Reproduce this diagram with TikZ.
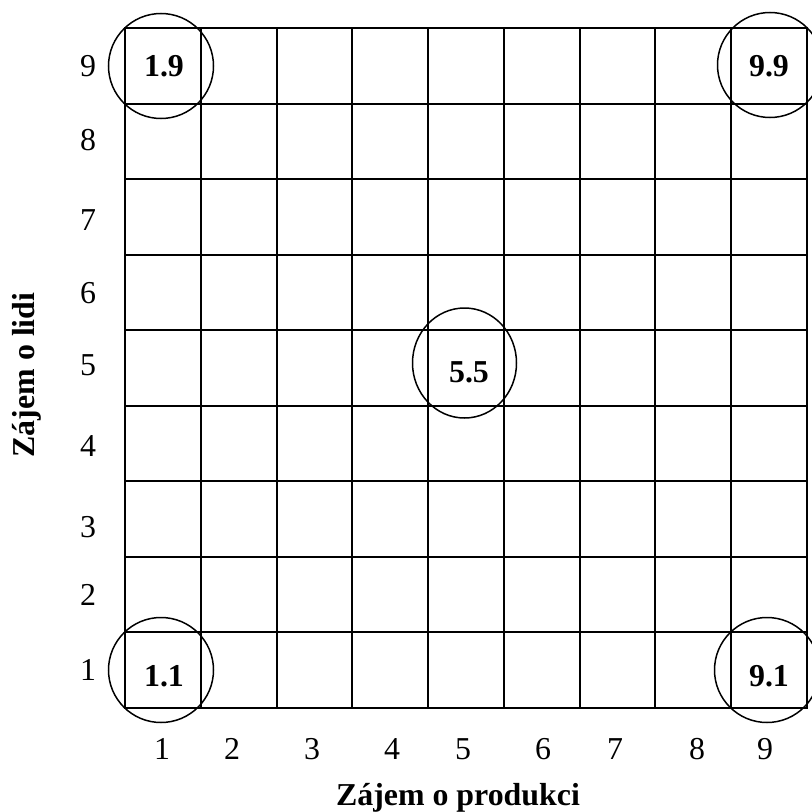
\documentclass[tikz,border=0pt]{standalone}
\usepackage{fontspec}
\setmainfont{Liberation Serif}
\usetikzlibrary{shapes.geometric}
\begin{document}
\begin{tikzpicture}[x=1bp,y=-1bp,
  gridline/.style={line width=2bp, line cap=rect},
  ring/.style={draw, circle, line width=1.5bp, minimum size=105bp, inner sep=0pt},
  oval/.style={draw, ellipse, line width=1.5bp, minimum width=104bp, minimum height=110bp, inner sep=0pt},
  val/.style={font=\fontsize{32}{36}\selectfont\bfseries, anchor=base, inner sep=0pt},
  tick/.style={font=\fontsize{32}{36}\selectfont, anchor=base, inner sep=0pt},
  axislabel/.style={font=\fontsize{32}{36}\selectfont\bfseries, anchor=base, inner sep=0pt}]
\useasboundingbox (0,0) rectangle (812,812);
\clip (0,0) rectangle (812,812);
\fill[white] (0,0) rectangle (812,812);
% grid
\foreach \i in {0,...,9} {
  \draw[gridline] ({125+\i*75.78},28) -- ({125+\i*75.78},708);
  \draw[gridline] (125,{28+\i*75.56}) -- (807,{28+\i*75.56});
}
% circles
\node[ring] (c19) at (161,66) {};
\node[ring] (c99) at (770,65) {};
\node[ring] (c11) at (161,670) {};
\node[ring] (c91) at (767,670) {};
\node[oval] (c55) at (464.5,363) {};
% values
\node[val] (t19) at (164,77) {1.9};
\node[val] (t99) at (769,77) {9.9};
\node[val] (t11) at (164,686) {1.1};
\node[val] (t91) at (769,686) {9.1};
\node[val] (t55) at (469,382) {5.5};
% x ticks
\foreach \n/\x in {1/162,2/232,3/312,4/392,5/463,6/543,7/615,8/697,9/765}
  \node[tick] (x\n) at (\x,759) {\n};
% y ticks
\foreach \n/\y in {9/77,8/150,7/230,6/303,5/375,4/456,3/537,2/605,1/680}
  \node[tick] (y\n) at (88,\y) {\n};
% axis labels
\node[axislabel] (xl) at (458,805) {Zájem o produkci};
\node[axislabel, rotate=90] (yl) at (34,375) {Zájem o lidi};
\end{tikzpicture}
\end{document}
